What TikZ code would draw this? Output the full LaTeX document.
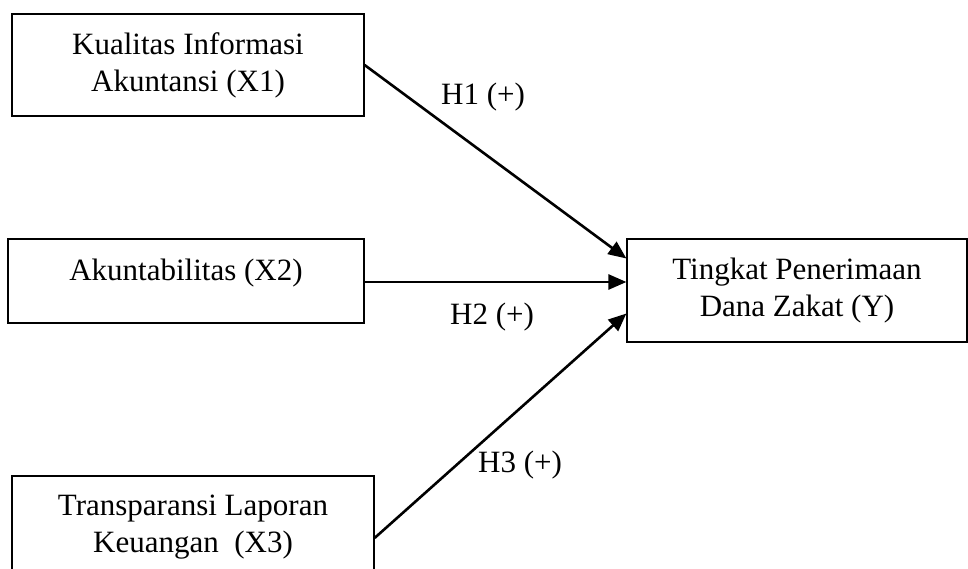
\documentclass[tikz,border=0pt]{standalone}
\usepackage{fontspec}
\setmainfont{Liberation Serif}
\usetikzlibrary{arrows.meta,calc}
\begin{document}
\begin{tikzpicture}[x=1pt,y=-1pt,
  box/.style={draw=black,line width=1.2pt,align=center,inner sep=2pt,
    font=\fontsize{31}{37}\selectfont},
  lbl/.style={inner sep=0pt,font=\fontsize{31}{37}\selectfont},
  arr/.style={line width=2.6pt,-{Triangle[length=18pt,width=15pt]}}]
\useasboundingbox (0,0) rectangle (968,569);
\clip (0,0) rectangle (968,569);
\node[box,minimum width=352pt,minimum height=102pt] (X1) at (188,65) {Kualitas Informasi\\Akuntansi (X1)};
\node[box,minimum width=356pt,minimum height=84pt,text height=30pt,text depth=32pt] (X2) at (186,281) {Akuntabilitas (X2)};
\node[box,minimum width=362pt,minimum height=102pt] (X3) at (193,527) {Transparansi Laporan\\Keuangan\ \ (X3)};
\node[box,minimum width=340pt,minimum height=103pt] (Y) at (797,290.5) {Tingkat Penerimaan\\Dana Zakat (Y)};
\draw[arr] (X1.east) -- ([yshift=32pt]Y.west);
\draw[arr] ([yshift=-1pt]X2.east) -- ([yshift=8.5pt]Y.west);
\draw[arr] ([yshift=-11pt]X3.east) -- ([yshift=-23pt]Y.west);
\node[lbl] (h1) at (483,97) {H1 (+)};
\node[lbl] (h2) at (492,317) {H2 (+)};
\node[lbl] (h3) at (520,465) {H3 (+)};
\end{tikzpicture}
\end{document}
